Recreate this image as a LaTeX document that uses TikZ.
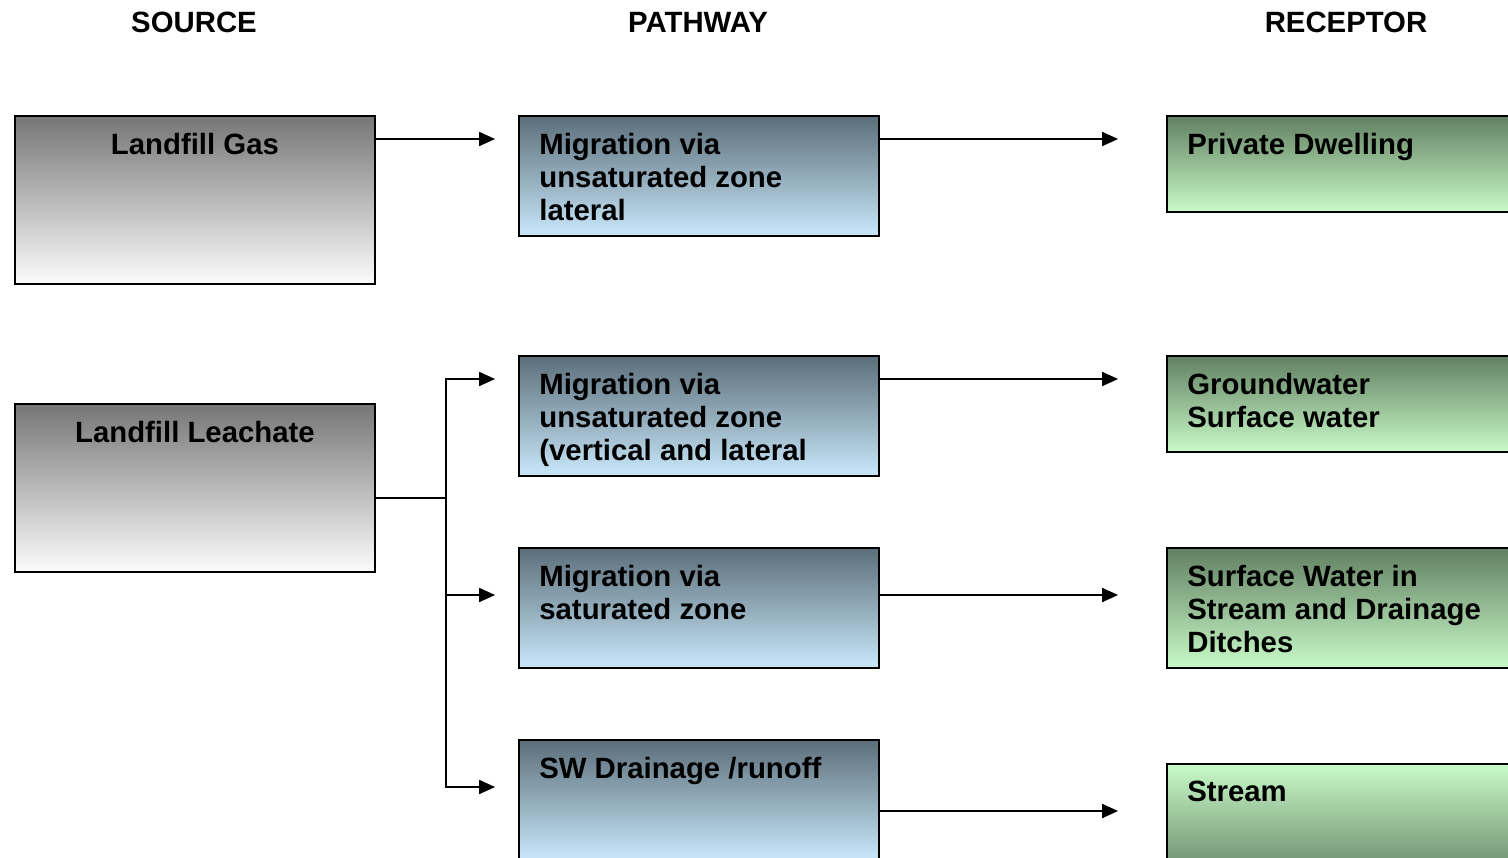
\documentclass[tikz,border=0pt]{standalone}
\usepackage{fontspec}
\setmainfont{Liberation Sans}
\usetikzlibrary{arrows.meta,calc}
\definecolor{srctop}{RGB}{118,118,118}
\definecolor{srcbot}{RGB}{252,252,252}
\definecolor{pathtop}{RGB}{92,110,122}
\definecolor{pathbot}{RGB}{200,232,250}
\definecolor{rectop}{RGB}{98,128,98}
\definecolor{recbot}{RGB}{200,250,200}
\begin{document}
\begin{tikzpicture}[x=0.02cm, y=-0.02cm,
		every node/.style = {font=\bfseries\fontsize{16.7}{19}\selectfont},
		box/.style = {draw, line width=1.1pt, anchor=north west,
			inner sep=0pt, minimum width=7.2cm},
		srcbox/.style = {box, minimum height=3.36cm,
			top color=srctop, bottom color=srcbot},
		pathbox/.style = {box, minimum height=2.4cm,
			top color=pathtop, bottom color=pathbot},
		recbox/.style = {box, minimum width=7.6cm,
			top color=rectop, bottom color=recbot},
		srctext/.style = {anchor=north, inner sep=0pt, yshift=-0.35cm},
		boxtext/.style = {anchor=north west, align=left, inner sep=0pt,
			xshift=0.42cm, yshift=-0.35cm},
		link/.style = {line width=0.85pt, -{Triangle[length=9pt,width=8pt]}}]
	\useasboundingbox (0,0) rectangle (1508,858);

	% column headings
	\node (srchead) at (194,22) {SOURCE};
	\node (pathhead) at (698,22) {PATHWAY};
	\node (rechead) at (1346,22) {RECEPTOR};

	% sources
	\node[srcbox, label={[srctext]north:Landfill Gas}] (gas) at (14,115) {};
	\node[srcbox, label={[srctext]north:Landfill Leachate}] (leach) at (14,403) {};

	% pathways
	\node[pathbox, label={[boxtext]north west:{Migration via\\unsaturated zone\\lateral}}] (pwa) at (518,115) {};
	\node[pathbox, label={[boxtext]north west:{Migration via\\unsaturated zone\\(vertical and lateral}}] (pwb) at (518,355) {};
	\node[pathbox, label={[boxtext]north west:{Migration via\\saturated zone}}] (pwc) at (518,547) {};
	\node[pathbox, label={[boxtext]north west:{SW Drainage /runoff}}] (pwd) at (518,739) {};

	% receptors
	\node[recbox, minimum height=1.92cm, label={[boxtext]north west:{Private Dwelling}}] (rca) at (1166,115) {};
	\node[recbox, minimum height=1.92cm, label={[boxtext]north west:{Groundwater\\Surface water}}] (rcb) at (1166,355) {};
	\node[recbox, minimum height=2.4cm, label={[boxtext]north west:{Surface Water in\\Stream and Drainage\\Ditches}}] (rcc) at (1166,547) {};
	\node[recbox, minimum height=2.4cm, top color=recbot, bottom color=rectop,
		label={[boxtext]north west:{Stream}}] (rcd) at (1166,763) {};

	% source to pathway
	\draw[link] ($(gas.north east)+(0,24)$) -- ($(pwa.north west)+(-23,24)$);
	\coordinate (split) at (446,498);
	\draw[line width=0.85pt] ($(leach.north east)+(0,95)$) -- (split);
	\draw[link] (split) |- ($(pwb.north west)+(-23,24)$);
	\draw[link] (split) |- ($(pwc.north west)+(-23,48)$);
	\draw[link] (split) |- ($(pwd.north west)+(-23,48)$);

	% pathway to receptor
	\draw[link] ($(pwa.north east)+(0,24)$) -- ($(rca.north west)+(-48,24)$);
	\draw[link] ($(pwb.north east)+(0,24)$) -- ($(rcb.north west)+(-48,24)$);
	\draw[link] ($(pwc.north east)+(0,48)$) -- ($(rcc.north west)+(-48,48)$);
	\draw[link] ($(pwd.north east)+(0,72)$) -- ($(rcd.north west)+(-48,48)$);
\end{tikzpicture}
\end{document}
